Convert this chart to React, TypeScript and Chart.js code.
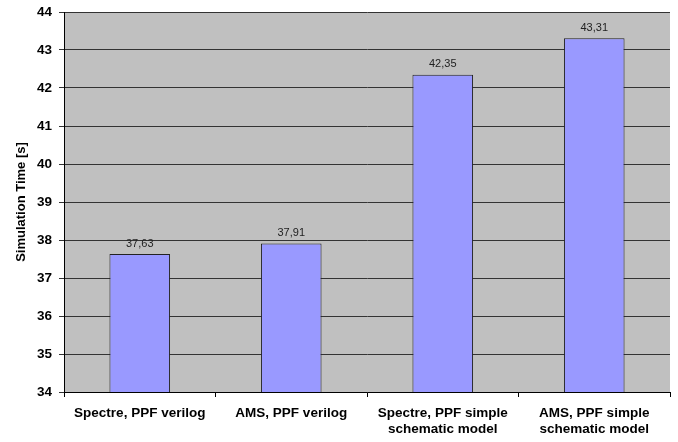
import React, { useEffect, useRef } from "react";
import { Chart, registerables } from "chart.js";

Chart.register(...registerables);

const categories: string[][] = [
  ["Spectre, PPF verilog"],
  ["AMS, PPF verilog"],
  ["Spectre, PPF simple", "schematic model"],
  ["AMS, PPF simple", "schematic model"],
];
const simTimes: number[] = [37.63, 37.91, 42.35, 43.31];
const yTicks: number[] = [34, 35, 36, 37, 38, 39, 40, 41, 42, 43, 44];
const yTitle = "Simulation Time [s]";

const bgPlugin = {
  id: "plotBg",
  beforeDraw(chart: any) {
    const { ctx, chartArea } = chart;
    ctx.save();
    ctx.fillStyle = "#C0C0C0";
    ctx.fillRect(chartArea.left, chartArea.top, chartArea.right - chartArea.left, chartArea.bottom - chartArea.top);
    ctx.restore();
  },
};

const labelPlugin = {
  id: "valueLabels",
  afterDatasetsDraw(chart: any) {
    const { ctx } = chart;
    const meta = chart.getDatasetMeta(0);
    ctx.save();
    ctx.font = "11px 'Liberation Sans', Arial, sans-serif";
    ctx.fillStyle = "#222";
    ctx.textAlign = "center";
    ctx.textBaseline = "bottom";
    meta.data.forEach((bar: any, i: number) => {
      const v = simTimes[i].toFixed(2).replace(".", ",");
      ctx.fillText(v, bar.x, bar.y - 5);
    });
    ctx.restore();
  },
};

export default function App() {
  const ref = useRef<HTMLCanvasElement>(null);
  useEffect(() => {
    if (!ref.current) return;
    const chart = new Chart(ref.current, {
      type: "bar",
      data: {
        labels: categories,
        datasets: [
          {
            data: simTimes,
            backgroundColor: "#9999FF",
            borderColor: "#222",
            borderWidth: 1,
            categoryPercentage: 1,
            barPercentage: 0.4,
          },
        ],
      },
      options: {
        animation: false,
        responsive: false,
        maintainAspectRatio: false,
        layout: { padding: { left: 0, right: 8, top: 12, bottom: 0 } },
        plugins: { legend: { display: false }, tooltip: { enabled: false } },
        scales: {
          x: {
            grid: { offset: true, drawOnChartArea: false, drawTicks: true, tickLength: 5, color: "#000" },
            border: { color: "#000", width: 1 },
            ticks: {
              color: "#000",
              font: { family: "'Liberation Sans', Arial, sans-serif", size: 13.5, weight: "bold", lineHeight: 1.15 },
              padding: 9,
              maxRotation: 0,
              autoSkip: false,
            },
            afterFit(scale: any) {
              scale.height = 50;
            },
          },
          y: {
            min: 34,
            max: 44,
            afterBuildTicks(scale: any) {
              scale.ticks = yTicks.map((v) => ({ value: v }));
            },
            grid: { color: "#333", tickLength: 5, lineWidth: 1 },
            border: { color: "#000", width: 1 },
            ticks: {
              color: "#000",
              font: { family: "'Liberation Sans', Arial, sans-serif", size: 13.5, weight: "bold", lineHeight: 1 },
              padding: 7,
            },
            title: {
              display: true,
              text: yTitle,
              color: "#000",
              font: { family: "'Liberation Sans', Arial, sans-serif", size: 13, weight: "bold" },
              padding: { top: 14, bottom: 2 },
            },
            afterFit(scale: any) {
              scale.width = 64;
              scale.paddingTop = 0;
              scale.paddingBottom = 0;
            },
          },
        },
      },
      plugins: [bgPlugin, labelPlugin],
    });
    return () => chart.destroy();
  }, []);
  return (
    <div style={{ position: "fixed", left: 0, top: 0, width: 678, height: 442, background: "#fff" }}>
      <canvas ref={ref} width={678} height={442} style={{ width: 678, height: 442 }} />
    </div>
  );
}
